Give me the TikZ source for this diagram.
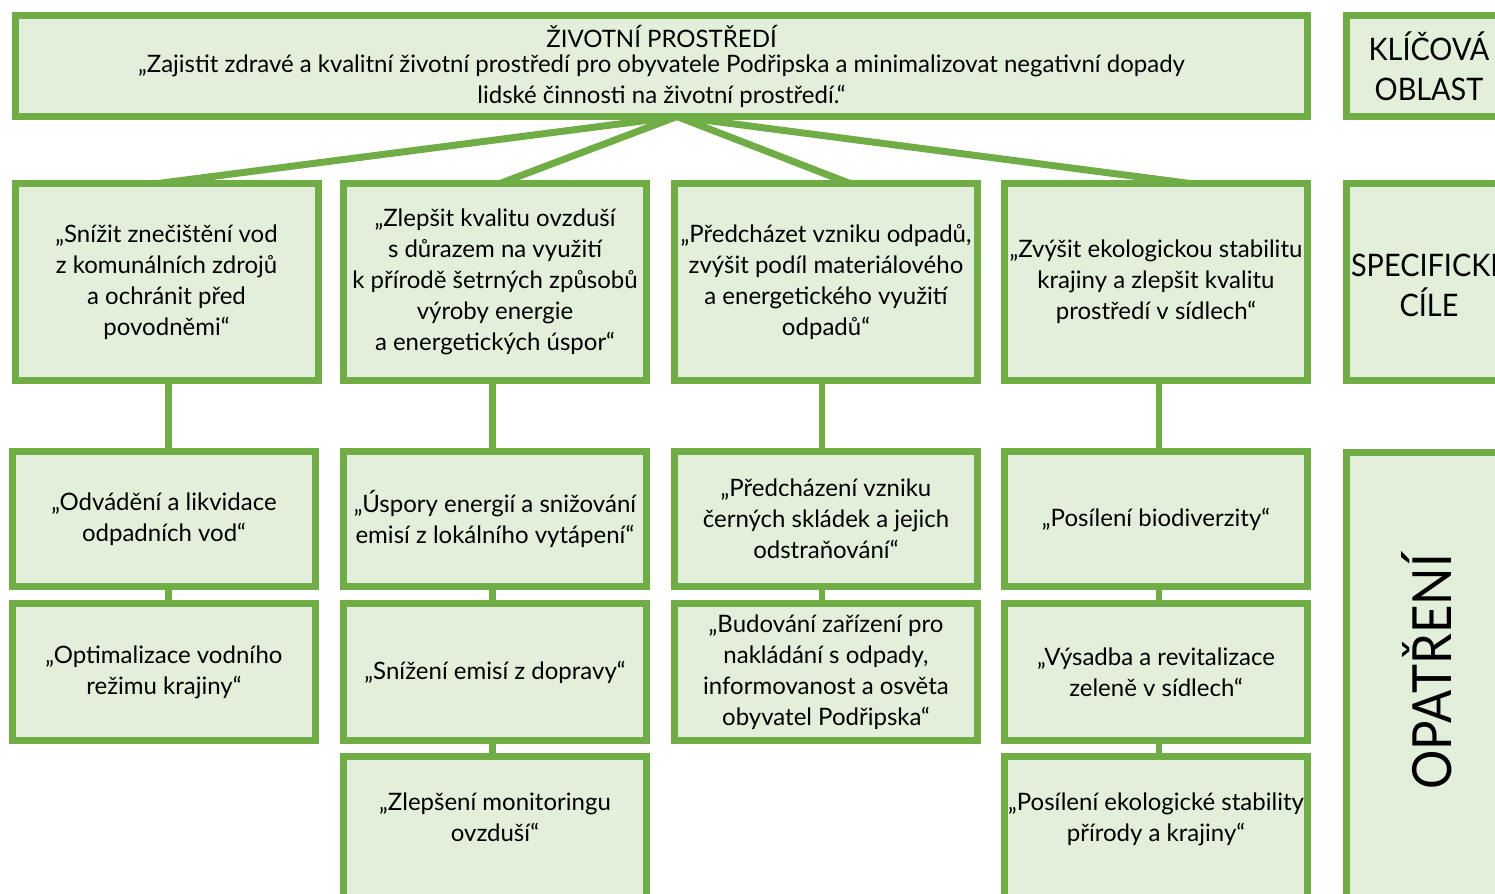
\documentclass[tikz,border=0pt]{standalone}
\usepackage{fontspec}
\setmainfont{Lato}
\newfontfamily\titlefont{Lato}[FakeStretch=0.93]
\newfontfamily\condfont{Lato}[FakeStretch=0.91]
\usetikzlibrary{backgrounds}

\definecolor{boxgreen}{HTML}{70AD47}
\definecolor{boxfill}{HTML}{E2EFDA}

\tikzset{
    box/.style={draw=boxgreen, fill=boxfill, line width=3.5pt, outer sep=0pt,
        inner sep=2pt, align=center, minimum width=151.5pt,
        font=\fontsize{12pt}{15.5pt}\selectfont},
    goalbox/.style={box, minimum height=98.5pt},
    rowabox/.style={box, minimum height=67.5pt},
    rowbbox/.style={box, minimum height=68.5pt},
    rowcbox/.style={box, anchor=north, minimum height=80pt, text depth=19pt},
    sidebox/.style={box, minimum width=82.5pt,
        font=\titlefont\fontsize{15.5pt}{20pt}\selectfont},
    link/.style={draw=boxgreen, line width=3.5pt},
    vlink/.style={draw=boxgreen, line width=3.2pt}
}

\begin{document}
\begin{tikzpicture}[x=0.5pt, y=-0.5pt]

    \useasboundingbox (0,0) rectangle (1495,894);
    \clip (0,0) rectangle (1495,894);

    % klicova oblast
    \node[box, minimum width=646pt, minimum height=50.5pt] (top) at (661.5,66)
        {ŽIVOTNÍ PROSTŘEDÍ\\[-3pt]
         „Zajistit zdravé a kvalitní životní prostředí pro obyvatele Podřipska a minimalizovat negativní dopady\\
         lidské činnosti na životní prostředí.“};

    % specificke cile
    \node[goalbox] (g1) at (166.5,282)
        {„Snížit znečištění vod\\z komunálních zdrojů\\a ochránit před\\povodněmi“};
    \node[goalbox] (g2) at (495,282)
        {„Zlepšit kvalitu ovzduší\\s důrazem na využití\\k přírodě šetrných způsobů\\výroby energie\\a energetických úspor“};
    \node[goalbox] (g3) at (826,282)
        {„Předcházet vzniku odpadů,\\zvýšit podíl materiálového\\a energetického využití\\odpadů“};
    \node[goalbox] (g4) at (1156,282)
        {„Zvýšit ekologickou stabilitu\\krajiny a zlepšit kvalitu\\prostředí v sídlech“};

    % opatreni
    \node[rowabox] (m1a) at (164,519) {„Odvádění a likvidace\\odpadních vod“};
    \node[rowbbox] (m1b) at (164,672) {„Optimalizace vodního\\režimu krajiny“};

    \node[rowabox] (m2a) at (495,519) {„Úspory energií a snižování\\emisí z lokálního vytápení“};
    \node[rowbbox] (m2b) at (495,672) {„Snížení emisí z dopravy“};
    \node[rowcbox] (m2c) at (495,756.5) {„Zlepšení monitoringu\\ovzduší“};

    \node[rowabox] (m3a) at (826,519) {„Předcházení vzniku\\černých skládek a jejich\\odstraňování“};
    \node[rowbbox] (m3b) at (826,672) {„Budování zařízení pro\\nakládání s odpady,\\informovanost a osvěta\\obyvatel Podřipska“};

    \node[rowabox] (m4a) at (1156,519) {„Posílení biodiverzity“};
    \node[rowbbox] (m4b) at (1156,672) {„Výsadba a revitalizace\\zeleně v sídlech“};
    \node[rowcbox] (m4c) at (1156,756.5) {„Posílení ekologické stability\\přírody a krajiny“};

    % legenda vpravo
    \node[sidebox, minimum height=50.5pt] (klic) at (1429,66) {KLÍČOVÁ\\OBLAST};
    \node[sidebox, minimum height=98.5pt] (spec) at (1429,282) {SPECIFICKÉ\\CÍLE};
    \node[sidebox, anchor=north, minimum height=240pt] (opat) at (1429,452.5) {};
    \node[rotate=90, font=\condfont\fontsize{27pt}{30pt}\selectfont] (opatlbl) at (1427,672) {OPATŘENÍ};

    \begin{scope}[on background layer]
        \fill[white] (0,0) rectangle (1495,894);

        \draw[link] ([xshift=7.75pt]top.south) -- ([xshift=-4.25pt]g1.north);
        \draw[link] ([xshift=7.75pt]top.south) -- ([xshift=2.5pt]g2.north);
        \draw[link] ([xshift=7.75pt]top.south) -- ([xshift=12pt]g3.north);
        \draw[link] ([xshift=7.75pt]top.south) -- ([xshift=17pt]g4.north);

        \draw[vlink] ([xshift=1pt]g1.south) -- ([xshift=1pt]g1.south |- m1a.north);
        \draw[vlink] ([xshift=2.25pt]m1a.south) -- ([xshift=2.25pt]m1a.south |- m1b.north);
        \draw[vlink] ([xshift=-1.25pt]g2.south) -- ([xshift=-1.25pt]g2.south |- m2a.north);
        \draw[vlink] ([xshift=-1.25pt]m2a.south) -- ([xshift=-1.25pt]m2a.south |- m2b.north);
        \draw[vlink] ([xshift=-1.25pt]m2b.south) -- ([xshift=-1.25pt]m2b.south |- m2c.north);
        \draw[vlink] ([xshift=-2pt]g3.south) -- ([xshift=-2pt]g3.south |- m3a.north);
        \draw[vlink] ([xshift=-2pt]m3a.south) -- ([xshift=-2pt]m3a.south |- m3b.north);
        \draw[vlink] ([xshift=1.5pt]g4.south) -- ([xshift=1.5pt]g4.south |- m4a.north);
        \draw[vlink] ([xshift=1.5pt]m4a.south) -- ([xshift=1.5pt]m4a.south |- m4b.north);
        \draw[vlink] ([xshift=1.5pt]m4b.south) -- ([xshift=1.5pt]m4b.south |- m4c.north);
    \end{scope}

\end{tikzpicture}
\end{document}
